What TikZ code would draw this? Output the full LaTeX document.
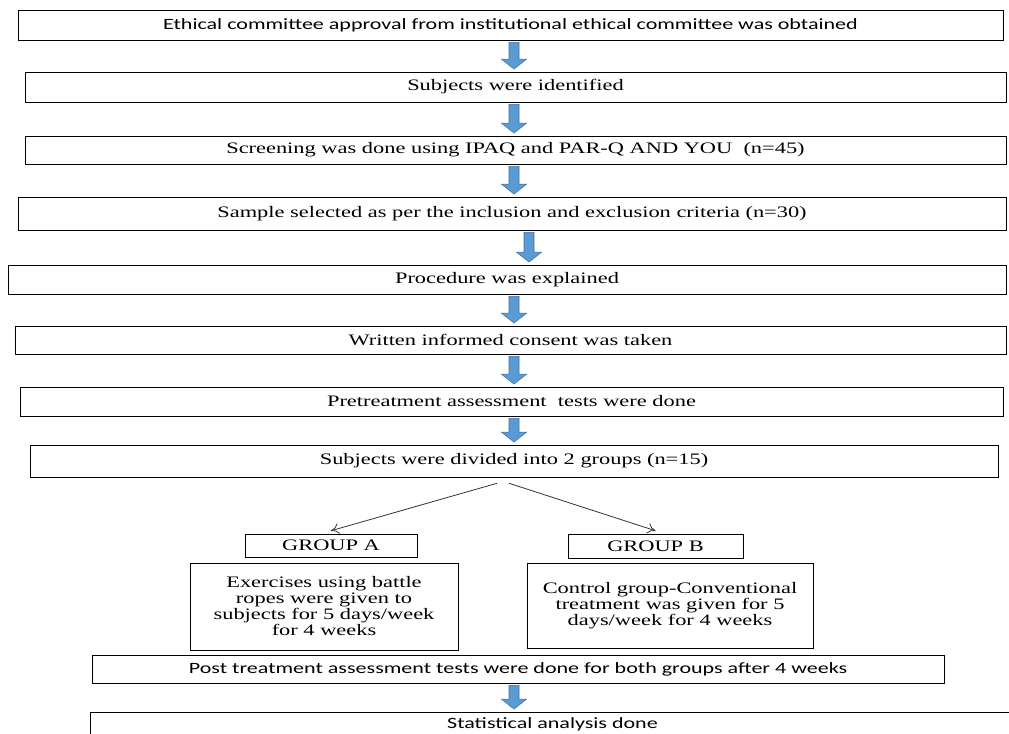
\documentclass[tikz,border=0pt]{standalone}
\usepackage{fontspec}
\setmainfont{Liberation Serif}[FakeStretch=1.4]
\newfontfamily\calibri{Carlito}[FakeStretch=1.4]
\usetikzlibrary{calc, arrows.meta}
\definecolor{arrowblue}{RGB}{91,155,213}
\definecolor{arrowedge}{RGB}{65,113,156}

% box from its corners (px): [style]{name}{x1}{y1}{x2}{y2}{text}
\newcommand{\stagenode}[7][stage]{%
  \node[#1, minimum width={(#5-#3)*0.75pt}, minimum height={(#6-#4)*0.75pt}]
    (#2) at ({(#3+#5)/2}, {(#4+#6)/2}) {#7};}
% block arrow between two boxes at a given x (px)
\newcommand{\flowarrow}[3]{%
  \draw[blockarrow] let \p1=(#3,0), \p2=(#1.south), \p3=(#2.north) in
    (\x1-\shaft,\y2-1.5pt) -- (\x1+\shaft,\y2-1.5pt) -- (\x1+\shaft,\y3+2pt+\tip)
    -- (\x1+\head,\y3+2pt+\tip) -- (\x1,\y3+2pt) -- (\x1-\head,\y3+2pt+\tip)
    -- (\x1-\shaft,\y3+2pt+\tip) -- cycle;}

\begin{document}
\begin{tikzpicture}[x=0.75pt, y=-0.75pt]
% Define styles
\tikzset{
  stage/.style={draw, thin, inner sep=0pt, align=center, font=\fontsize{12}{12}\selectfont},
  sans stage/.style={stage, font=\calibri\fontsize{11.8}{12}\selectfont},
  blockarrow/.style={fill=arrowblue, draw=arrowedge, line width=0.4pt},
  split arrow/.style={draw=black!80, line width=0.6pt, -{To[length=6pt, width=8pt]}}
}

% Parameters
\def\shaft{3.75pt} % half width of the shaft
\def\head{9.5pt}   % half width of the head
\def\tip{7.5pt}    % length of the head

\fill[white] (0,0) rectangle (1009,733);
\useasboundingbox (0,0) rectangle (1009,733);
\clip (0,0) rectangle (1009,733);

% Main column
\stagenode[sans stage]{ethics}{18}{10}{1003}{40}{Ethical committee approval from institutional ethical committee was obtained}
\stagenode{identify}{25}{72}{1006}{102}{Subjects were identified}
\stagenode{screen}{25}{136}{1006}{164}{Screening was done using IPAQ and PAR-Q AND YOU~~(n=45)}
\stagenode{sample}{18}{197}{1006}{230}{Sample selected as per the inclusion and exclusion criteria (n=30)}
\stagenode{explain}{8}{265}{1006}{294}{Procedure was explained}
\stagenode{consent}{15}{326}{1006}{354}{Written informed consent was taken}
\stagenode{pretest}{20}{387}{1003}{416}{Pretreatment assessment~ tests were done}
\stagenode{divide}{30}{445}{998}{477}{Subjects were divided into 2 groups (n=15)}

% Two groups
\stagenode{groupA}{245}{534}{417}{557}{GROUP A}
\stagenode{groupB}{568}{534}{743}{558}{GROUP B}
\stagenode{treatA}{190}{563}{458}{650}{Exercises using battle\\ropes were given to\\subjects for 5 days/week\\for 4 weeks}
\stagenode{treatB}{527}{563}{813}{648}{Control group-Conventional\\treatment was given for 5\\days/week for 4 weeks}

% After treatment
\stagenode[sans stage]{posttest}{92}{655}{944}{683}{Post treatment assessment tests were done for both groups after 4 weeks}
\stagenode[sans stage]{analysis}{90}{712}{1015}{736}{Statistical analysis done}

% Arrows
\flowarrow{ethics}{identify}{514}
\flowarrow{identify}{screen}{514}
\flowarrow{screen}{sample}{514}
\flowarrow{sample}{explain}{529}
\flowarrow{explain}{consent}{514}
\flowarrow{consent}{pretest}{514}
\flowarrow{pretest}{divide}{514}
\flowarrow{posttest}{analysis}{514}

\draw[split arrow] ([shift={(-17,6)}]divide.south) -- ([shift={(0,-3)}]groupA.north);
\draw[split arrow] ([shift={(-5,6)}]divide.south) -- ([shift={(0,-3)}]groupB.north);
\end{tikzpicture}
\end{document}
